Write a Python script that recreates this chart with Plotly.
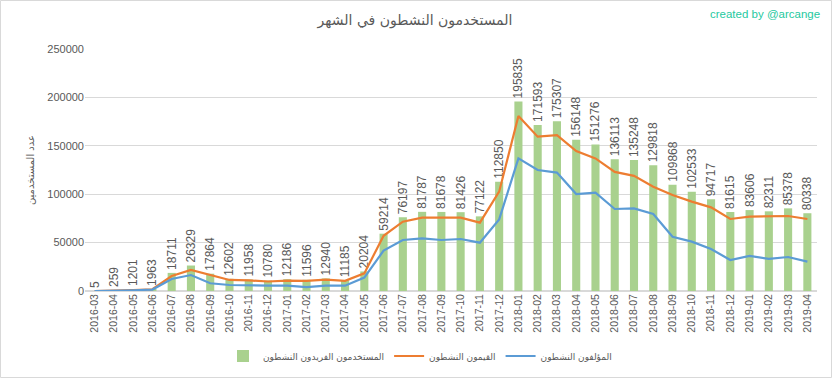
import plotly.graph_objects as go

months = ["2016-03","2016-04","2016-05","2016-06","2016-07","2016-08","2016-09","2016-10","2016-11","2016-12",
          "2017-01","2017-02","2017-03","2017-04","2017-05","2017-06","2017-07","2017-08","2017-09","2017-10","2017-11","2017-12",
          "2018-01","2018-02","2018-03","2018-04","2018-05","2018-06","2018-07","2018-08","2018-09","2018-10","2018-11","2018-12",
          "2019-01","2019-02","2019-03","2019-04"]

unique_active = [5, 259, 1201, 1963, 18711, 26329, 17864, 12602, 11958, 10780,
                 12186, 11596, 12940, 11185, 20204, 59214, 76197, 81787, 81678, 81426, 77122, 112850,
                 195835, 171593, 175307, 156148, 151276, 136113, 135248, 129818, 109868, 102533, 94717, 81615,
                 83606, 82311, 85378, 80338]

curators_active = [0, 200, 1000, 1800, 15500, 21700, 16500, 11400, 11000, 9800,
                   10700, 10500, 11700, 10500, 18200, 57000, 71600, 75800, 75800, 75800, 70600, 102600,
                   180800, 159400, 161000, 144600, 137000, 123000, 119000, 107800, 99200, 92300, 86400, 74400,
                   76800, 76800, 77500, 74400]

authors_active = [0, 200, 800, 1500, 12400, 16500, 8000, 6200, 5500, 5500,
                  5500, 4000, 5500, 5500, 13800, 41700, 52700, 54400, 52700, 53700, 49900, 74000,
                  137000, 125000, 122300, 100200, 101600, 84700, 85400, 79500, 56100, 51000, 43400, 32000,
                  36200, 33100, 35100, 30300]

y_ticks = [0, 50000, 100000, 150000, 200000, 250000]

title_text = "المستخدمون النشطون في الشهر"
credit_text = "created by @arcange"
y_title = "عدد المستخدمين"
name_bars = "المستخدمون الفريدون النشطون"
name_curators = "القيمون النشطون"
name_authors = "المؤلفون النشطون"

FONT = "Liberation Sans, DejaVu Sans, sans-serif"
AR_FONT = "DejaVu Sans, Noto Sans, sans-serif"

fig = go.Figure()
fig.add_trace(go.Bar(
    x=months, y=unique_active, name=name_bars,
    marker=dict(color="#a9d18e", line=dict(width=0)),
    text=[str(v) for v in unique_active], textposition="outside", textangle=-90,
    constraintext="none", cliponaxis=False,
    textfont=dict(family=FONT, size=12, color="#595959"),
))
fig.add_trace(go.Scatter(
    x=months, y=curators_active, name=name_curators, mode="lines",
    line=dict(color="#ed7d31", width=2.2),
))
fig.add_trace(go.Scatter(
    x=months, y=authors_active, name=name_authors, mode="lines",
    line=dict(color="#5b9bd5", width=2.2),
))

W, H = 833, 379
L, R, T, B = 85, 16, 49, 88
pw, ph = W - L - R, H - T - B

fig.update_layout(
    width=W, height=H,
    margin=dict(l=L, r=R, t=T, b=B, autoexpand=False),
    paper_bgcolor="white", plot_bgcolor="white",
    bargap=0.58,
    showlegend=True,
    legend=dict(orientation="h", x=(420 - L) / pw, xanchor="center", y=(-(356 - (H - B)) / ph), yanchor="middle",
                font=dict(family=AR_FONT, size=9, color="#595959"), traceorder="normal",
                itemwidth=30, tracegroupgap=0),
    title=dict(text=title_text, x=415 / W, xref="container", y=1 - 20 / H, yref="container",
               xanchor="center", yanchor="middle",
               font=dict(family=AR_FONT, size=14, color="#595959")),
    xaxis=dict(type="category", tickangle=-90, showgrid=False, showline=False, ticks="", automargin=False,
               tickfont=dict(family=FONT, size=10.5, color="#595959"), range=[-0.5, len(months) - 0.5]),
    yaxis=dict(range=[0, 250000], tickvals=y_ticks, tickformat="d", showgrid=True, gridcolor="#d9d9d9",
               gridwidth=1, zeroline=True, zerolinecolor="#d9d9d9", showline=False, ticks="", automargin=False,
               tickfont=dict(family=FONT, size=11, color="#595959"),
               title=dict(text=y_title, standoff=10, font=dict(family=AR_FONT, size=10, color="#595959"))),
    annotations=[dict(text=credit_text, xref="paper", yref="paper",
                      x=(822 - L) / pw, y=1 + (T - 14) / ph, xanchor="right", yanchor="middle",
                      showarrow=False, font=dict(family=FONT, size=11.5, color="#25c9a0"))],
    shapes=[dict(type="rect", xref="paper", yref="paper",
                 x0=(-L + 0.5) / pw, x1=(W - L - 1.5) / pw,
                 y0=-(B - 1.5) / ph, y1=1 + (T - 0.5) / ph,
                 line=dict(color="#d9d9d9", width=1), fillcolor="rgba(0,0,0,0)", layer="below")],
)

fig.write_html("out.html", config={"displayModeBar": False},
               post_script="document.body.style.margin='0';document.body.style.overflow='hidden';")
